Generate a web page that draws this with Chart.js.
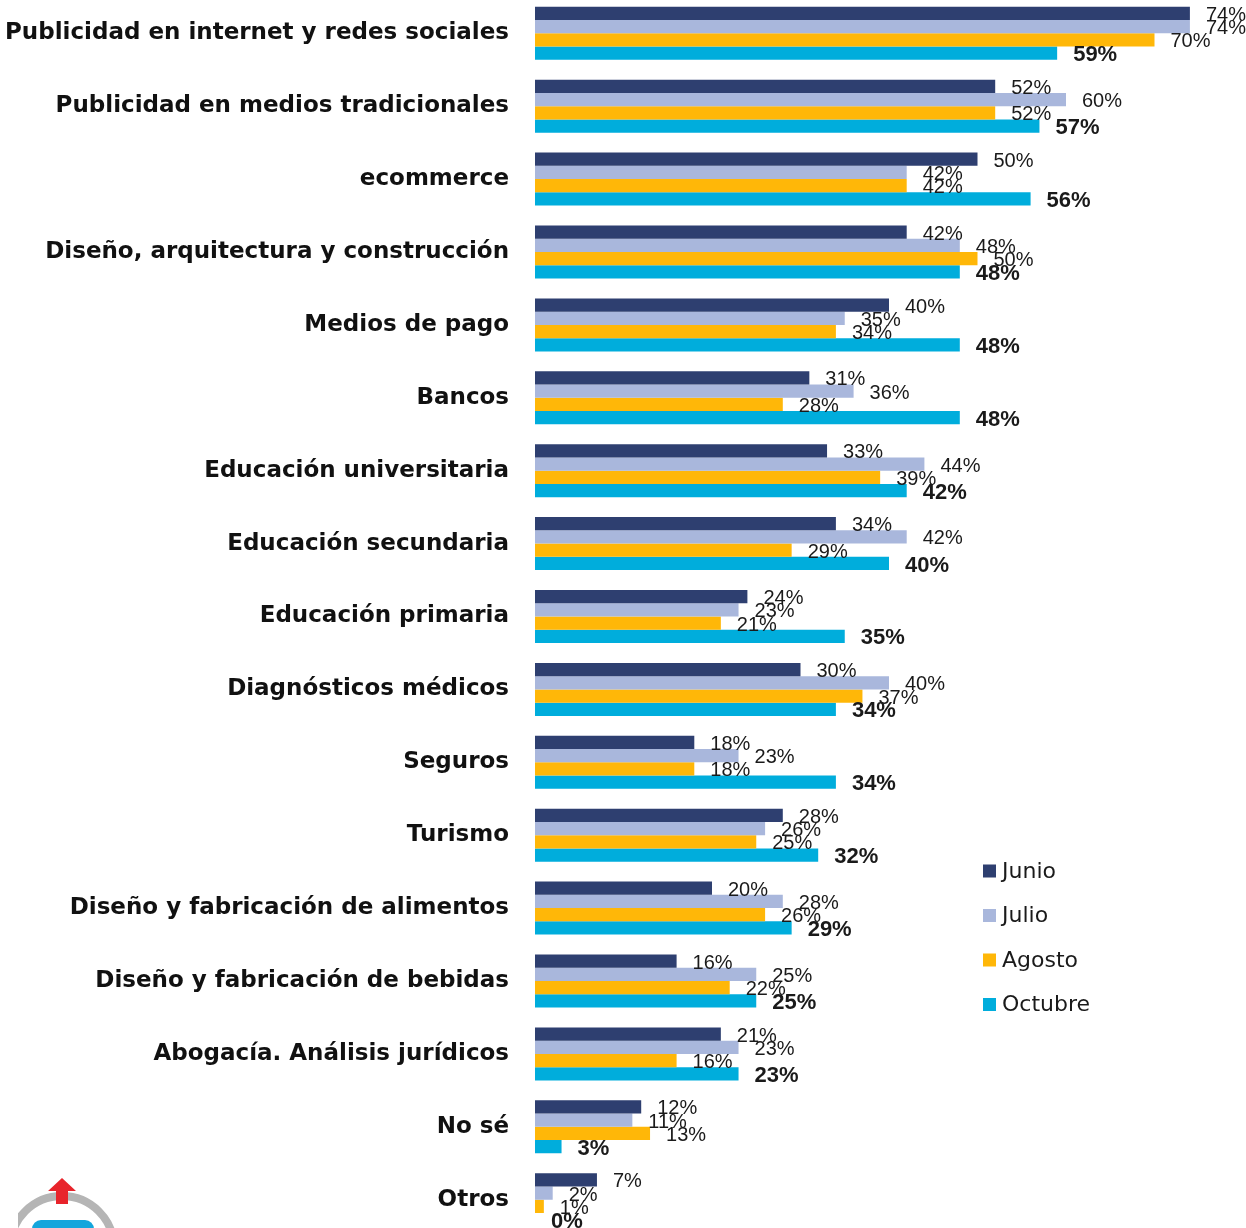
<!DOCTYPE html>
<html>
<head>
<meta charset="utf-8">
<script src="https://cdn.jsdelivr.net/npm/chart.js@4/dist/chart.umd.min.js"></script>
<style>
  html, body { margin: 0; padding: 0; background: #fff; overflow: hidden; }
  #wrap { position: absolute; left: 0; top: -17px; width: 1246px; height: 1267px; }
  #logo { position: absolute; left: 18px; top: 1176px; }
</style>
</head>
<body>
<div id="wrap"><canvas id="areas-chart"></canvas></div>
<svg id="logo" width="110" height="60" viewBox="0 0 110 60">
  <circle cx="44" cy="72" r="52" fill="none" stroke="#b5b5b5" stroke-width="8"/>
  <rect x="14" y="44" width="62" height="20" rx="9" fill="#14a6dc"/>
  <path d="M44 2 L58 15 L50 15 L50 28 L38 28 L38 15 L30 15 Z" fill="#e8242b"/>
</svg>
<script>
const categorias = [
    'Publicidad en internet y redes sociales',
    'Publicidad en medios tradicionales',
    'ecommerce',
    'Diseño, arquitectura y construcción',
    'Medios de pago',
    'Bancos',
    'Educación universitaria',
    'Educación secundaria',
    'Educación primaria',
    'Diagnósticos médicos',
    'Seguros',
    'Turismo',
    'Diseño y fabricación de alimentos',
    'Diseño y fabricación de bebidas',
    'Abogacía. Análisis jurídicos',
    'No sé',
    'Otros'
];

const junio   = [74, 52, 50, 42, 40, 31, 33, 34, 24, 30, 18, 28, 20, 16, 21, 12, 7];
const julio   = [74, 60, 42, 48, 35, 36, 44, 42, 23, 40, 23, 26, 28, 25, 23, 11, 2];
const agosto  = [70, 52, 42, 50, 34, 28, 39, 29, 21, 37, 18, 25, 26, 22, 16, 13, 1];
const octubre = [59, 57, 56, 48, 48, 48, 42, 40, 35, 34, 34, 32, 29, 25, 23, 3, 0];

// etiquetas de valor al final de cada barra (octubre en negrita)
const valueLabels = {
    id: 'valueLabels',
    afterDatasetsDraw(chart) {
        const ctx = chart.ctx;
        ctx.save();
        ctx.fillStyle = '#1a1a1a';
        ctx.textAlign = 'left';
        ctx.textBaseline = 'middle';
        chart.data.datasets.forEach((ds, i) => {
            const meta = chart.getDatasetMeta(i);
            ctx.font = i === 3 ? 'bold 22px "Liberation Sans"' : '20px "Liberation Sans"';
            meta.data.forEach((bar, j) => {
                ctx.fillText(ds.data[j] + '%', bar.x + 16, bar.y + 2);
            });
        });
        ctx.restore();
    }
};

// leyenda a la derecha, dentro del área del gráfico
const sideLegend = {
    id: 'sideLegend',
    afterDraw(chart) {
        const ctx = chart.ctx;
        ctx.save();
        ctx.font = '22px "DejaVu Sans"';
        ctx.textBaseline = 'middle';
        ctx.textAlign = 'left';
        chart.data.datasets.forEach((ds, i) => {
            const y = 888 + i * 44.5; // canvas desplazado 17px
            ctx.fillStyle = ds.backgroundColor;
            ctx.fillRect(983, y - 6.5, 13, 13);
            ctx.fillStyle = '#1a1a1a';
            ctx.fillText(ds.label, 1002, y + 1);
        });
        ctx.restore();
    }
};

new Chart(
    document.getElementById('areas-chart'),
    {
        type: 'bar',
        data: {
            labels: categorias,
            datasets: [
                { label: 'Junio', data: junio, backgroundColor: '#2e3f70' },
                { label: 'Julio', data: julio, backgroundColor: '#a9b7dc' },
                { label: 'Agosto', data: agosto, backgroundColor: '#ffb708' },
                { label: 'Octubre', data: octubre, backgroundColor: '#00addc' }
            ]
        },
        options: {
            indexAxis: 'y',
            responsive: true,
            maintainAspectRatio: false,
            animation: false,
            categoryPercentage: 0.727,
            barPercentage: 1.0,
            layout: {
                padding: { left: 0, right: 3, top: 0, bottom: 0 }
            },
            plugins: {
                legend: { display: false },
                tooltip: { enabled: false }
            },
            scales: {
                x: {
                    display: false,
                    min: 0,
                    max: 80
                },
                y: {
                    afterFit(scale) {
                        scale.width = 535;
                    },
                    // separación etiqueta-barra con tickLength (padding mueve el área verticalmente)
                    grid: { display: false, drawTicks: true, tickLength: 26 },
                    border: { display: false },
                    ticks: {
                        padding: 0,
                        color: '#111',
                        font: {
                            size: 23,
                            weight: 'bold',
                            family: 'DejaVu Sans'
                        }
                    }
                }
            }
        },
        plugins: [valueLabels, sideLegend]
    }
);
</script>
</body>
</html>
